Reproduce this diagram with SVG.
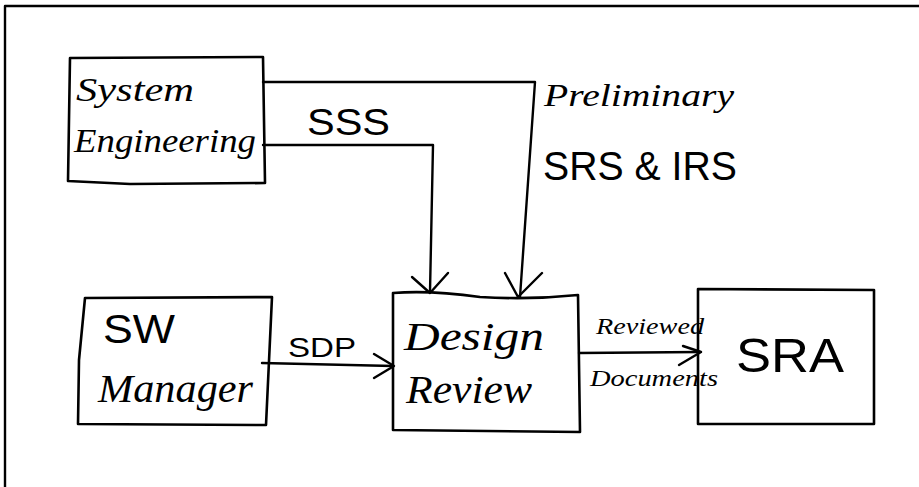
<svg xmlns="http://www.w3.org/2000/svg" width="919" height="487" viewBox="0 0 919 487">
<style>
.ln{fill:none;stroke:#000;stroke-width:2.4;stroke-linecap:round;stroke-linejoin:round}
.box{fill:none;stroke:#000;stroke-width:2.6;stroke-linejoin:round}
.hw{font-family:"Liberation Serif",serif;font-style:italic;fill:#000}
.pr{font-family:"Liberation Sans",sans-serif;fill:#000}
</style>
<rect width="919" height="487" fill="#fff"/>
<path class="ln" d="M5,487 L5,6 L919,6" stroke-width="2.6"/>
<g id="system-engineering">
<path class="box" d="M70,58 L263,57 L265,183 L130,184 L68,181 Z"/>
<text class="hw" x="76" y="101" font-size="34" textLength="118" lengthAdjust="spacingAndGlyphs">System</text>
<text class="hw" x="74" y="152" font-size="34" textLength="182" lengthAdjust="spacingAndGlyphs">Engineering</text>
</g>
<g id="sw-manager">
<path class="box" d="M85,298 L272,297 L266,425 L78,424 L79,360 Z"/>
<text class="pr" x="103" y="343" font-size="40" textLength="72" lengthAdjust="spacingAndGlyphs">SW</text>
<text class="hw" x="98" y="402" font-size="40" textLength="155" lengthAdjust="spacingAndGlyphs">Manager</text>
</g>
<g id="design-review">
<path class="box" d="M393,293 Q430,290 480,297 Q530,300 578,295 L580,432 L393,430 Z"/>
<text class="hw" x="404" y="350" font-size="40" textLength="140" lengthAdjust="spacingAndGlyphs">Design</text>
<text class="hw" x="406" y="403" font-size="40" textLength="126" lengthAdjust="spacingAndGlyphs">Review</text>
</g>
<g id="sra">
<path class="box" d="M698,289 L874,290 L874,424 L698,424 Z"/>
<text class="pr" x="736" y="372" font-size="48" textLength="108" lengthAdjust="spacingAndGlyphs">SRA</text>
</g>
<g id="connectors">
<path class="ln" d="M263,82 L535,82 L520,297"/>
<path class="ln" d="M505,273 L518,297 L542,273"/>
<path class="ln" d="M263,145 L433,145 L430,292"/>
<path class="ln" d="M412,277 L430,293 L448,273"/>
<path class="ln" d="M262,363 L393,366"/>
<path class="ln" d="M374,354 L394,366 L374,378"/>
<path class="ln" d="M579,353 L700,352"/>
<path class="ln" d="M683,346 L701,352 L679,365"/>
<text class="pr" x="307" y="135" font-size="36" textLength="83" lengthAdjust="spacingAndGlyphs">SSS</text>
<text class="pr" x="288" y="357" font-size="28" textLength="68" lengthAdjust="spacingAndGlyphs">SDP</text>
<text class="hw" x="544" y="106" font-size="32" textLength="190" lengthAdjust="spacingAndGlyphs">Preliminary</text>
<text class="pr" x="543" y="180" font-size="40" textLength="194" lengthAdjust="spacingAndGlyphs">SRS &amp; IRS</text>
<text class="hw" x="596" y="334" font-size="24" textLength="108" lengthAdjust="spacingAndGlyphs">Reviewed</text>
<text class="hw" x="590" y="386" font-size="24" textLength="128" lengthAdjust="spacingAndGlyphs">Documents</text>
</g>
</svg>
